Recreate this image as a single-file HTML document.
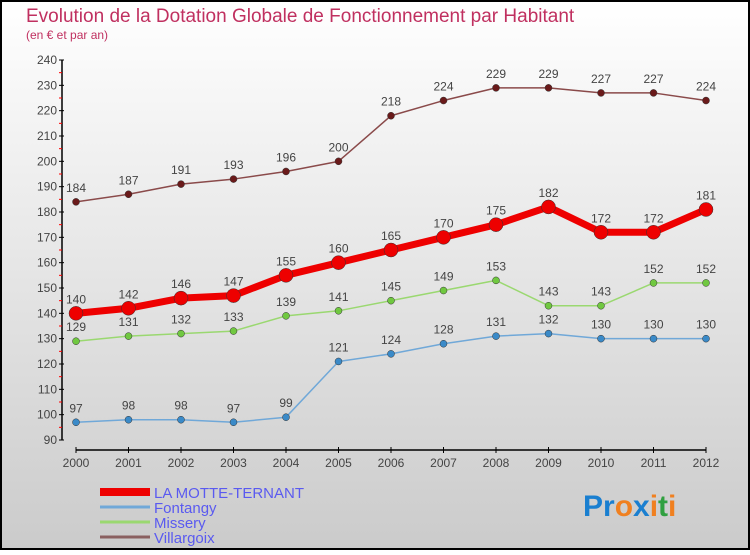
<!DOCTYPE html>
<html><head><meta charset="utf-8"><style>
html,body{margin:0;padding:0}
body{width:750px;height:550px;overflow:hidden;font-family:"Liberation Sans",sans-serif}
</style></head><body>
<svg width="750" height="550" xmlns="http://www.w3.org/2000/svg">
<defs><linearGradient id="bg" x1="0" y1="0" x2="0" y2="1"><stop offset="0" stop-color="#ffffff"/><stop offset="1" stop-color="#cbcbcb"/></linearGradient></defs>
<rect x="1" y="1" width="748" height="548" fill="url(#bg)" stroke="#000" stroke-width="2"/>
<text x="26" y="22" font-size="19" fill="#c03060">Evolution de la Dotation Globale de Fonctionnement par Habitant</text>
<text x="26" y="39" font-size="12" fill="#c03060">(en € et par an)</text>
<g id="axes"></g>
<g id="series"></g>
<g id="legend"></g>
<text x="583" y="516" font-size="30" font-weight="bold"><tspan fill="#1a7fd0">Pr</tspan><tspan fill="#f08020">o</tspan><tspan fill="#1a7fd0">x</tspan><tspan fill="#f08020">i</tspan><tspan fill="#30a040">t</tspan><tspan fill="#f08020">i</tspan></text>
</svg>
<script>
const years=[2000,2001,2002,2003,2004,2005,2006,2007,2008,2009,2010,2011,2012];
const yTicks=[90,100,110,120,130,140,150,160,170,180,190,200,210,220,230,240];
const motte=[140,142,146,147,155,160,165,170,175,182,172,172,181];
const fontangy=[97,98,98,97,99,121,124,128,131,132,130,130,130];
const missery=[129,131,132,133,139,141,145,149,153,143,143,152,152];
const villargoix=[184,187,191,193,196,200,218,224,229,229,227,227,224];
const NS="http://www.w3.org/2000/svg";
const xS=i=>76+i*52.5;
const yS=v=>440-(v-90)*380/150;
function mk(tag,attrs,parent){const e=document.createElementNS(NS,tag);for(const k in attrs)e.setAttribute(k,attrs[k]);parent.appendChild(e);return e;}
const ax=document.getElementById('axes');
let l=mk('line',{x1:62,y1:60,x2:62,y2:440,stroke:'#000','stroke-width':1.5},ax);


yTicks.forEach(v=>{
 const y=yS(v);
 mk('line',{x1:59,y1:y,x2:64,y2:y,stroke:'#000'},ax);
 if(v<240) mk('line',{x1:59,y1:y-12.67,x2:62,y2:y-12.67,stroke:'#f00'},ax);
 const t=mk('text',{x:57,y:y+4,'font-size':12,fill:'#444','text-anchor':'end'},ax);
 t.textContent=v;
 
 
});
l=mk('line',{x1:76,y1:450,x2:706,y2:450,stroke:'#000','stroke-width':1.5},ax);


years.forEach((yr,i)=>{
 const x=xS(i);
 mk('line',{x1:x,y1:447,x2:x,y2:453,stroke:'#000'},ax);
 const t=mk('text',{x:x,y:467,'font-size':12,fill:'#444','text-anchor':'middle'},ax);
 t.textContent=yr;
 
 
});
const sg=document.getElementById('series');
function series(data,color,w,r,name,dot){
 const g=mk('g',{},sg);
 
 
 mk('polyline',{points:data.map((v,i)=>xS(i)+','+yS(v)).join(' '),fill:'none',stroke:color,'stroke-width':w,'stroke-linejoin':'round'},g);
 data.forEach((v,i)=>{
  const c=mk('circle',{cx:xS(i),cy:yS(v),r:r,fill:dot,stroke:'#333','stroke-width':0.5},g);
  
  
  const t=mk('text',{x:xS(i),y:yS(v)-10,'font-size':12,fill:'#444','text-anchor':'middle'},g);
  t.textContent=v;
  
  
 });
}
series(villargoix,'#8a4a4a',1.5,3.5,'villargoix-series','#6a1a1a');
series(missery,'#9ad870',1.5,3.5,'missery-series','#70c840');
series(fontangy,'#70a8d8',1.5,3.5,'fontangy-series','#3a8ac8');
series(motte,'#ee0000',7,7,'motte-ternant-series','#ee0000');
const lg=document.getElementById('legend');
const items=[['LA MOTTE-TERNANT','#ee0000',8],['Fontangy','#70a8d8',3],['Missery','#9ad870',3],['Villargoix','#8a6060',3]];
items.forEach((it,i)=>{
 const y=493+i*15;
 const g=mk('g',{},lg);
 
 
 mk('line',{x1:100,y1:y-1,x2:150,y2:y-1,stroke:it[1],'stroke-width':it[2]},g);
 const t=mk('text',{x:154,y:y+5,'font-size':15,fill:'#5a5af0'},g);
 t.textContent=it[0];
});
</script>
</body></html>
